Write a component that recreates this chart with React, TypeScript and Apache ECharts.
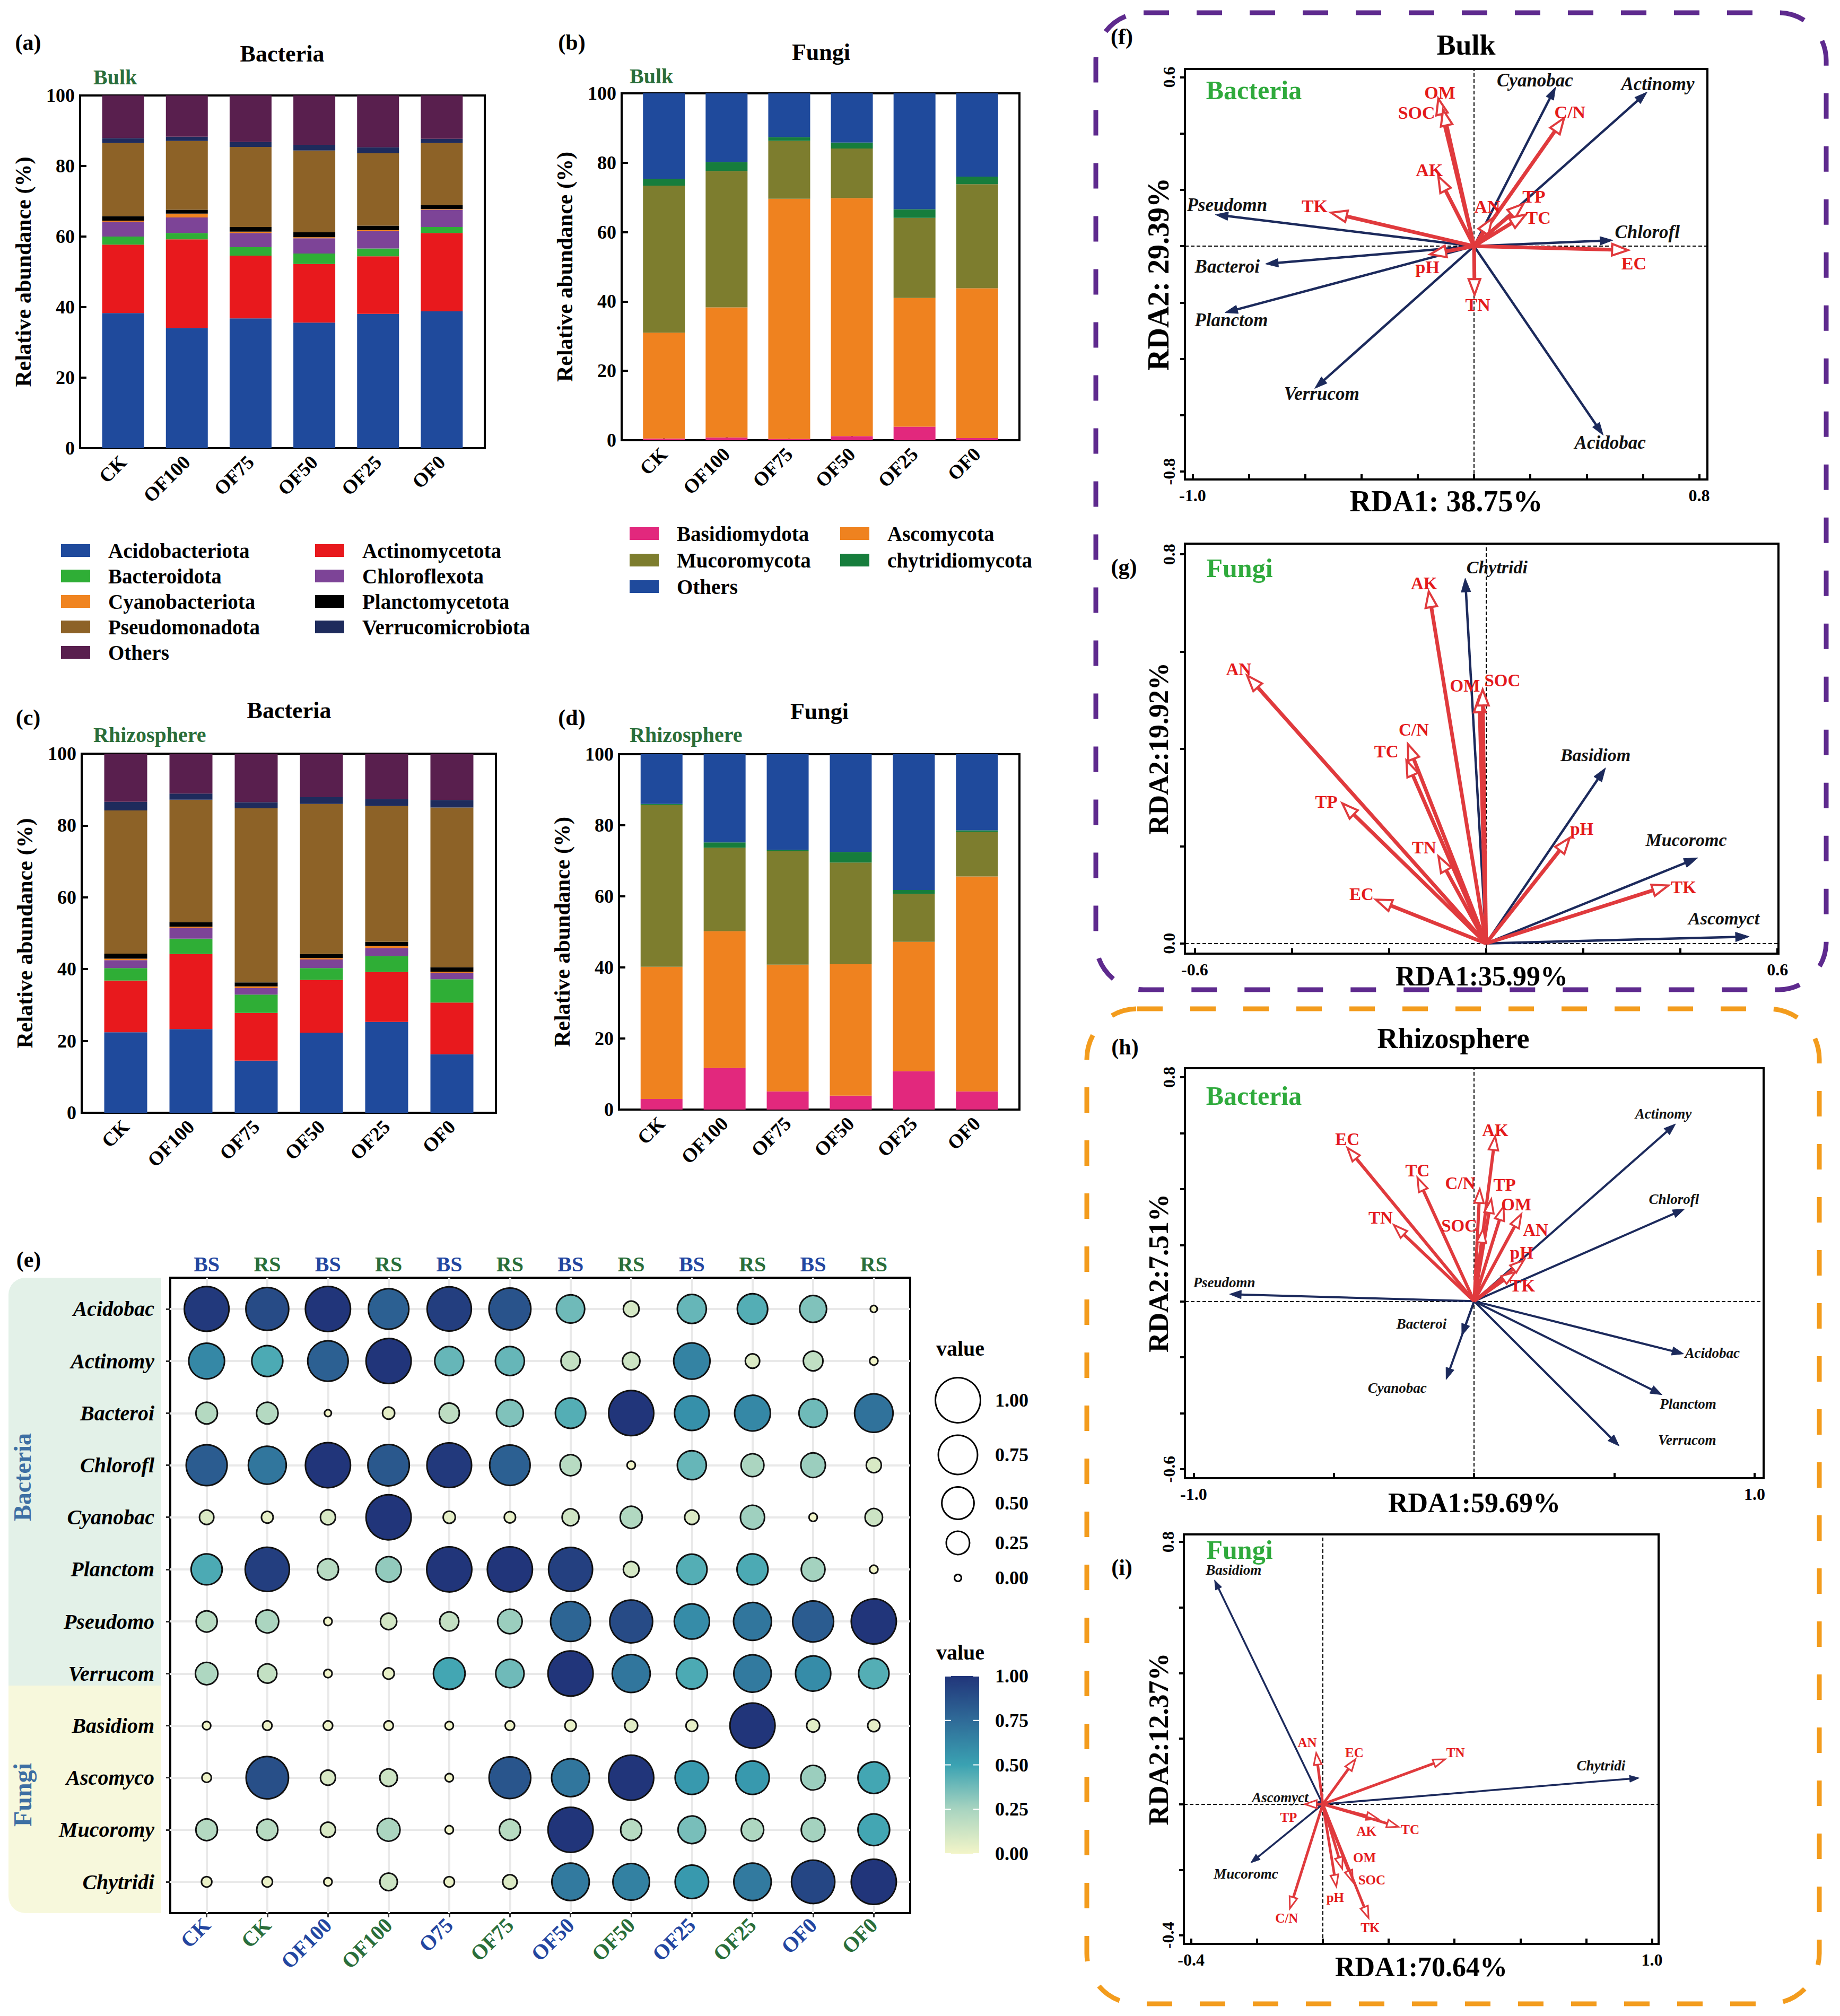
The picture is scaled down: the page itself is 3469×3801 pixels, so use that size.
import React, { useEffect, useRef } from 'react';
import * as echarts from 'echarts';

const FONT = '"Liberation Serif", "Times New Roman", serif';
const NAVY = '#1c2a5c';
const RED_ARROW = '#e03a3d';
const RED_TEXT = '#e41a1c';
const TITLE_GREEN = '#2a6e3a';
const LABEL_GREEN = '#2faa3c';
const AXIS_BLUE = '#2346a0';
const PURPLE = '#5e2a8e';
const ORANGE = '#f39c1d';

// ---------------- stacked bars ----------------
const treatments = ['CK', 'OF100', 'OF75', 'OF50', 'OF25', 'OF0'];
const bacteriaPhyla = ['Acidobacteriota', 'Actinomycetota', 'Bacteroidota', 'Chloroflexota', 'Cyanobacteriota', 'Planctomycetota', 'Pseudomonadota', 'Verrucomicrobiota', 'Others'];
const bacteriaColors = ['#1f4a9c', '#e8191d', '#2fae36', '#7d4497', '#f08420', '#000000', '#8d6227', '#1e2b5c', '#591f4e'];
const fungiPhyla = ['Basidiomydota', 'Ascomycota', 'Mucoromycota', 'chytridiomycota', 'Others'];
const fungiColors = ['#e2287d', '#ef821f', '#7d7d2e', '#167d3c', '#1f4a9c'];

// (a) bulk bacteria (%)
const bulkAcido = [38.3, 34.1, 36.8, 35.6, 38.1, 38.8];
const bulkActino = [19.4, 25.1, 17.8, 16.6, 16.3, 22.2];
const bulkBactero = [2.3, 1.8, 2.4, 3.0, 2.2, 1.7];
const bulkChloro = [4.2, 4.4, 4.0, 4.3, 4.9, 4.9];
const bulkCyano = [0.3, 1.1, 0.4, 0.3, 0.3, 0.2];
const bulkPlancto = [1.3, 1.1, 1.3, 1.4, 1.3, 1.1];
const bulkPseudo = [20.7, 19.5, 22.7, 23.2, 20.5, 17.6];
const bulkVerruco = [1.4, 1.2, 1.4, 1.6, 1.7, 1.2];
const bulkBacOthers = [12.1, 11.7, 13.2, 14.0, 14.7, 12.3];
// (c) rhizosphere bacteria (%)
const rhizAcido = [22.4, 23.3, 14.5, 22.3, 25.3, 16.3];
const rhizActino = [14.4, 20.9, 13.3, 14.7, 13.9, 14.4];
const rhizBactero = [3.5, 4.3, 5.1, 3.3, 4.4, 6.5];
const rhizChloro = [2.2, 3.0, 1.8, 2.4, 2.3, 1.8];
const rhizCyano = [0.4, 0.3, 0.5, 0.4, 0.5, 0.3];
const rhizPlancto = [1.4, 1.3, 1.1, 1.1, 1.2, 1.2];
const rhizPseudo = [39.9, 34.1, 48.5, 41.8, 37.8, 44.5];
const rhizVerruco = [2.4, 1.7, 1.7, 1.9, 2.0, 2.1];
const rhizBacOthers = [13.4, 11.1, 13.5, 12.1, 12.6, 12.9];
// (b) bulk fungi (%)
const bulkBasid = [0.5, 0.8, 0.4, 1.2, 3.9, 0.6];
const bulkAsco = [30.5, 37.5, 69.2, 68.6, 37.1, 43.2];
const bulkMuco = [42.4, 39.3, 16.7, 14.3, 23.1, 30.0];
const bulkChytr = [2.0, 2.6, 1.1, 1.7, 2.5, 2.2];
const bulkFunOthers = [24.6, 19.8, 12.6, 14.2, 33.4, 24.0];
// (d) rhizosphere fungi (%)
const rhizBasid = [3.0, 11.7, 5.1, 3.9, 10.8, 5.1];
const rhizAsco = [37.2, 38.5, 35.7, 37.0, 36.4, 60.5];
const rhizMuco = [45.5, 23.5, 31.9, 28.6, 13.5, 12.5];
const rhizChytr = [0.3, 1.5, 0.4, 3.0, 1.1, 0.5];
const rhizFunOthers = [14.0, 24.8, 26.9, 27.5, 38.2, 21.4];

const bulkBacteria = [bulkAcido, bulkActino, bulkBactero, bulkChloro, bulkCyano, bulkPlancto, bulkPseudo, bulkVerruco, bulkBacOthers];
const rhizBacteria = [rhizAcido, rhizActino, rhizBactero, rhizChloro, rhizCyano, rhizPlancto, rhizPseudo, rhizVerruco, rhizBacOthers];
const bulkFungi = [bulkBasid, bulkAsco, bulkMuco, bulkChytr, bulkFunOthers];
const rhizFungi = [rhizBasid, rhizAsco, rhizMuco, rhizChytr, rhizFunOthers];

// ---------------- bubble matrix (e) ----------------
const bubbleCols = ['CK', 'CK', 'OF100', 'OF100', 'O75', 'OF75', 'OF50', 'OF50', 'OF25', 'OF25', 'OF0', 'OF0'];
const bubbleTop = ['BS', 'RS', 'BS', 'RS', 'BS', 'RS', 'BS', 'RS', 'BS', 'RS', 'BS', 'RS'];
const bubbleRows = ['Acidobac', 'Actinomy', 'Bacteroi', 'Chlorofl', 'Cyanobac', 'Planctom', 'Pseudomo', 'Verrucom', 'Basidiom', 'Ascomyco', 'Mucoromy', 'Chytridi'];
const bubAcidobac = [0.98, 0.90, 1.0, 0.80, 0.96, 0.86, 0.38, 0.10, 0.40, 0.44, 0.34, 0.0];
const bubActinomy = [0.62, 0.46, 0.80, 1.0, 0.40, 0.40, 0.16, 0.13, 0.64, 0.08, 0.17, 0.01];
const bubBacteroi = [0.21, 0.21, 0.0, 0.05, 0.18, 0.34, 0.44, 1.0, 0.58, 0.62, 0.38, 0.72];
const bubChlorofl = [0.82, 0.70, 1.0, 0.84, 0.98, 0.80, 0.20, 0.01, 0.40, 0.24, 0.28, 0.09];
const bubCyanobac = [0.08, 0.045, 0.09, 1.0, 0.05, 0.04, 0.12, 0.22, 0.08, 0.27, 0.01, 0.13];
const bubPlanctom = [0.46, 0.96, 0.20, 0.30, 1.0, 1.0, 0.95, 0.10, 0.44, 0.46, 0.26, 0.01];
const bubPseudomo = [0.20, 0.24, 0.01, 0.11, 0.16, 0.28, 0.78, 0.90, 0.60, 0.70, 0.82, 1.0];
const bubVerrucom = [0.23, 0.16, 0.01, 0.04, 0.48, 0.38, 1.0, 0.70, 0.46, 0.68, 0.60, 0.44];
const bubBasidiom = [0.01, 0.02, 0.02, 0.02, 0.01, 0.02, 0.04, 0.06, 0.045, 1.0, 0.06, 0.05];
const bubAscomyco = [0.02, 0.88, 0.09, 0.13, 0.01, 0.85, 0.70, 1.0, 0.54, 0.54, 0.28, 0.48];
const bubMucoromy = [0.21, 0.20, 0.09, 0.24, 0.01, 0.20, 1.0, 0.20, 0.36, 0.23, 0.26, 0.48];
const bubChytridi = [0.03, 0.03, 0.01, 0.13, 0.03, 0.08, 0.68, 0.65, 0.54, 0.68, 0.92, 1.0];
const bubbleMatrix = [bubAcidobac, bubActinomy, bubBacteroi, bubChlorofl, bubCyanobac, bubPlanctom, bubPseudomo, bubVerrucom, bubBasidiom, bubAscomyco, bubMucoromy, bubChytridi];
const bubbleScale = ['#f3f5c8', '#a8d4c0', '#3aa2b2', '#2f6b98', '#21357a'];
const sizeLegendValues = [1.0, 0.75, 0.5, 0.25, 0.0];
const colorLegendValues = [1.0, 0.75, 0.5, 0.25, 0.0];

// ---------------- RDA biplots ----------------
// (f) bulk bacteria
const fSpecies = ['Cyanobac', 'Actinomy', 'Pseudomn', 'Chlorofl', 'Bacteroi', 'Planctom', 'Verrucom', 'Acidobac'];
const fSpeciesX = [0.290, 0.615, -0.919, 0.493, -0.741, -0.885, -0.566, 0.459];
const fSpeciesY = [0.565, 0.547, 0.112, 0.021, -0.063, -0.236, -0.505, -0.671];
const fEnv = ['OM', 'SOC', 'C/N', 'AK', 'TK', 'AN', 'TP', 'TC', 'EC', 'pH', 'TN'];
const fEnvX = [-0.127, -0.110, 0.320, -0.127, -0.508, 0.064, 0.175, 0.183, 0.547, -0.156, 0.002];
const fEnvY = [0.524, 0.484, 0.455, 0.248, 0.119, 0.098, 0.150, 0.112, -0.014, -0.029, -0.173];
// (g) bulk fungi
const gSpecies = ['Chytridi', 'Basidiom', 'Mucoromc', 'Ascomyct'];
const gSpeciesX = [-0.043, 0.246, 0.436, 0.542];
const gSpeciesY = [0.751, 0.361, 0.176, 0.014];
const gEnv = ['AK', 'AN', 'OM', 'SOC', 'C/N', 'TC', 'TP', 'TN', 'EC', 'pH', 'TK'];
const gEnvX = [-0.118, -0.492, -0.014, -0.007, -0.161, -0.164, -0.296, -0.098, -0.227, 0.172, 0.375];
const gEnvY = [0.724, 0.551, 0.508, 0.522, 0.410, 0.376, 0.288, 0.179, 0.090, 0.217, 0.119];
// (h) rhizosphere bacteria
const hSpecies = ['Actinomy', 'Chlorofl', 'Pseudomn', 'Bacteroi', 'Cyanobac', 'Acidobac', 'Planctom', 'Verrucom'];
const hSpeciesX = [0.718, 0.750, -0.872, -0.044, -0.100, 0.747, 0.670, 0.517];
const hSpeciesY = [0.633, 0.329, 0.025, -0.123, -0.280, -0.188, -0.334, -0.517];
const hEnv = ['EC', 'AK', 'TC', 'C/N', 'TP', 'OM', 'AN', 'TN', 'SOC', 'pH', 'TK'];
const hEnvX = [-0.452, 0.075, -0.202, 0.020, 0.061, 0.105, 0.168, -0.286, 0.032, 0.177, 0.146];
const hEnvY = [0.548, 0.589, 0.441, 0.400, 0.364, 0.338, 0.311, 0.272, 0.258, 0.146, 0.104];
// (i) rhizosphere fungi
const iSpecies = ['Basidiom', 'Chytridi', 'Ascomyct', 'Mucoromc'];
const iSpeciesX = [-0.329, 0.961, -0.025, -0.219];
const iSpeciesY = [0.684, 0.080, 0.003, -0.179];
const iEnv = ['AN', 'EC', 'TN', 'TP', 'AK', 'TC', 'OM', 'SOC', 'pH', 'TK', 'C/N'];
const iEnvX = [-0.020, 0.099, 0.371, -0.054, 0.168, 0.230, 0.059, 0.091, 0.041, 0.139, -0.100];
const iEnvY = [0.156, 0.137, 0.137, 0.000, -0.045, -0.069, -0.197, -0.237, -0.251, -0.347, -0.318];

// label offsets (px from arrow tip) – layout only
const fSpeciesOff = [[-39, -12], [20, -15], [22, -18], [65, -15], [-72, 5], [12, 14], [13, 10], [13, 14]];
const fEnvOff = [[3, -11], [-50, 5], [11, -11], [-17, -12], [-31, -12], [-9, -23], [20, -14], [24, 6], [11, 25], [-5, 24], [6, 18]];
const gSpeciesOff = [[60, -21], [-19, -24], [-22, -34], [-48, -34]];
const gEnvOff = [[-9, -15], [-16, -11], [-27, -20], [37, -17], [11, -27], [-38, -17], [-30, -3], [-27, -17], [-27, -10], [23, -17], [29, 3]];
const hSpeciesOff = [[-23, -19], [-20, -19], [-10, -22], [-76, -22], [-92, 16], [54, -2], [49, 17], [128, -11]];
const hEnvOff = [[0, -16], [0, -11], [0, -13], [-37, -11], [25, -27], [24, -4], [27, 30], [-25, -14], [-45, -6], [-4, -14], [14, 26]];
const iSpeciesOff = [[36, -19], [-72, -23], [-65, -11], [-9, 21]];
const iEnvOff = [[-17, -20], [-2, -13], [20, -13], [-31, 25], [-22, 23], [22, 5], [42, -21], [36, -4], [-2, 21], [3, 18], [-6, 18]];

// ---------------- helpers ----------------
function T(x: number, y: number, text: string, size: number, o: any = {}) {
  const align = o.align || 'center';
  return {
    type: 'text', x, y, rotation: o.rot || 0, z: o.z ?? 20, silent: true,
    style: {
      text, fill: o.color || '#000', fontSize: size, fontFamily: FONT,
      fontWeight: o.weight || 'bold', fontStyle: o.italic ? 'italic' : 'normal',
      align, textAlign: align, verticalAlign: 'middle', textVerticalAlign: 'middle',
    },
  };
}

function stackedPanel(gi: number, names: string[], colors: string[], table: number[][], bw: number) {
  const base = treatments.map(() => 0);
  return names.map((name, k) => {
    const vals = table[k];
    const data = vals.map((v, i) => [i, base[i], base[i] + v]);
    vals.forEach((v, i) => { base[i] += v; });
    const color = colors[k];
    return {
      type: 'custom', name, xAxisIndex: gi, yAxisIndex: gi, z: 2,
      itemStyle: { color },
      encode: { x: 0, y: [1, 2] },
      data,
      renderItem: (p: any, api: any) => {
        const x = api.value(0);
        const a = api.coord([x, api.value(1)]);
        const b = api.coord([x, api.value(2)]);
        return { type: 'rect', shape: { x: a[0] - bw / 2, y: b[1], width: bw, height: a[1] - b[1] }, style: { fill: color } };
      },
    };
  });
}

const treatmentIdx = treatments.map((_, i) => i);
function barXAxis(gi: number) {
  return {
    type: 'value', gridIndex: gi, min: -0.675, max: 5.675,
    axisLine: { show: true, onZero: false, lineStyle: { color: '#000', width: 4 } },
    axisTick: { show: true, inside: true, length: 15, customValues: treatmentIdx, lineStyle: { color: '#000', width: 4 } },
    axisLabel: { show: true, customValues: treatmentIdx, formatter: (v: number) => treatments[Math.round(v)], rotate: 45, margin: 20, color: '#000', fontSize: 37, fontWeight: 'bold', fontFamily: FONT },
    splitLine: { show: false },
  };
}
function barYAxis(gi: number) {
  return {
    type: 'value', gridIndex: gi, min: 0, max: 100, interval: 20,
    name: 'Relative abundance (%)', nameLocation: 'middle', nameGap: 86, nameMoveOverlap: false,
    nameTextStyle: { fontSize: 42, fontWeight: 'bold', fontFamily: FONT, color: '#000' },
    axisLine: { show: true, onZero: false, lineStyle: { color: '#000', width: 4 } },
    axisTick: { show: true, inside: true, length: 12, lineStyle: { color: '#000', width: 4 } },
    axisLabel: { color: '#000', fontSize: 36, fontWeight: 'bold', fontFamily: FONT, margin: 10 },
    splitLine: { show: false },
  };
}

function rdaXAxis(gi: number, min: number, max: number, ticks: number[], labels: number[], name: string, nameSize: number, gap: number) {
  return {
    type: 'value', gridIndex: gi, min, max,
    name, nameLocation: 'middle', nameGap: gap, nameMoveOverlap: false,
    nameTextStyle: { fontSize: nameSize, fontWeight: 'bold', fontFamily: FONT, color: '#000' },
    axisLine: { show: true, onZero: false, lineStyle: { color: '#000', width: 4 } },
    axisTick: { show: true, inside: true, length: 10, customValues: ticks, lineStyle: { color: '#000', width: 4 } },
    axisLabel: { customValues: labels, formatter: (v: number) => v.toFixed(1), margin: 14, color: '#000', fontSize: 32, fontWeight: 'bold', fontFamily: FONT },
    splitLine: { show: false },
  };
}
function rdaYAxis(gi: number, min: number, max: number, ticks: number[], labels: number[], name: string, nameSize: number, gap: number) {
  return {
    type: 'value', gridIndex: gi, min, max,
    name, nameLocation: 'middle', nameGap: gap, nameMoveOverlap: false,
    nameTextStyle: { fontSize: nameSize, fontWeight: 'bold', fontFamily: FONT, color: '#000' },
    axisLine: { show: true, onZero: false, lineStyle: { color: '#000', width: 4 } },
    axisTick: { show: true, inside: false, length: 9, customValues: ticks, lineStyle: { color: '#000', width: 4 } },
    axisLabel: { customValues: labels, formatter: (v: number) => v.toFixed(1), rotate: 90, margin: 14, color: '#000', fontSize: 32, fontWeight: 'bold', fontFamily: FONT },
    splitLine: { show: false },
  };
}

function arrowSeries(gi: number, yi: number, names: string[], xs: number[], ys: number[], offs: number[][], st: any) {
  return {
    type: 'custom', xAxisIndex: gi, yAxisIndex: yi, z: st.z, clip: false,
    encode: { x: 0, y: 1 },
    data: names.map((n, i) => [xs[i], ys[i]]),
    markLine: st.cross ? {
      silent: true, z: 1, symbol: ['none', 'none'], label: { show: false },
      lineStyle: { color: '#000', width: 2, type: [7, 4] }, emphasis: { disabled: true },
      data: [{ xAxis: 0 }, { yAxis: 0 }],
    } : undefined,
    renderItem: (p: any, api: any) => {
      const o = api.coord([0, 0]);
      const t = api.coord([api.value(0), api.value(1)]);
      const dx = t[0] - o[0], dy = t[1] - o[1];
      const L = Math.hypot(dx, dy) || 1;
      const ux = dx / L, uy = dy / L;
      const hl = Math.min(st.head, L * 0.7), hw = st.headW;
      const bx = t[0] - ux * hl, by = t[1] - uy * hl;
      const pts = [[t[0], t[1]], [bx - uy * hw / 2, by + ux * hw / 2], [bx + uy * hw / 2, by - ux * hw / 2]];
      const end = st.hollow ? [bx, by] : [t[0] - ux * hl * 0.5, t[1] - uy * hl * 0.5];
      const off = offs[p.dataIndex];
      return {
        type: 'group',
        children: [
          { type: 'line', shape: { x1: o[0], y1: o[1], x2: end[0], y2: end[1] }, style: { stroke: st.color, lineWidth: st.lw } },
          { type: 'polygon', shape: { points: pts }, style: { fill: st.hollow ? '#fff' : st.color, stroke: st.color, lineWidth: st.hollow ? st.headLw : 1 } },
          {
            type: 'text', x: t[0] + off[0], y: t[1] + off[1],
            style: {
              text: names[p.dataIndex], fill: st.textColor, fontSize: st.fs, fontFamily: FONT, fontWeight: 'bold',
              fontStyle: st.italic ? 'italic' : 'normal', align: 'center', textAlign: 'center', verticalAlign: 'middle', textVerticalAlign: 'middle',
            },
          },
        ],
      };
    },
  };
}

function range(a: number, b: number, step: number) {
  const out: number[] = [];
  for (let v = a; v <= b + 1e-9; v += step) out.push(Math.round(v * 1000) / 1000);
  return out;
}

function buildOption() {
  const gridStyle = { show: true, borderColor: '#000', borderWidth: 4, backgroundColor: 'transparent' };
  const grid = [
    { left: 151, top: 180, width: 763, height: 665, ...gridStyle },
    { left: 1172, top: 176, width: 750, height: 654, ...gridStyle },
    { left: 154, top: 1421, width: 781, height: 677, ...gridStyle },
    { left: 1167, top: 1422, width: 755, height: 670, ...gridStyle },
    { left: 321, top: 2409, width: 1395, height: 1198, ...gridStyle },
    { left: 2234, top: 130, width: 985, height: 774, ...gridStyle },
    { left: 2234, top: 1025, width: 1119, height: 773, ...gridStyle },
    { left: 2234, top: 2014, width: 1091, height: 773, ...gridStyle },
    { left: 2232, top: 2893, width: 895, height: 772, ...gridStyle },
  ];

  const colIdx = bubbleCols.map((_, i) => i);
  const rowIdx = bubbleRows.map((_, i) => i);
  const rich = {
    b: { color: AXIS_BLUE, fontSize: 40, fontWeight: 'bold', fontFamily: FONT },
    g: { color: TITLE_GREEN, fontSize: 40, fontWeight: 'bold', fontFamily: FONT },
  };

  const xAxis: any[] = [
    barXAxis(0), barXAxis(1), barXAxis(2), barXAxis(3),
    {
      type: 'value', gridIndex: 4, min: -0.6, max: 11.6,
      axisLine: { show: false, onZero: false },
      axisTick: { show: true, customValues: colIdx, length: 8, lineStyle: { color: '#333', width: 3 } },
      axisLabel: { customValues: colIdx, rotate: 45, margin: 16, formatter: (v: number) => { const k = Math.round(v); return `{${k % 2 ? 'g' : 'b'}|${bubbleCols[k]}}`; }, rich },
      splitLine: { show: false },
    },
    {
      type: 'value', gridIndex: 4, position: 'top', min: -0.6, max: 11.6,
      axisLine: { show: false, onZero: false }, axisTick: { show: false },
      axisLabel: { customValues: colIdx, margin: 6, formatter: (v: number) => { const k = Math.round(v); return `{${k % 2 ? 'g' : 'b'}|${bubbleTop[k]}}`; }, rich },
      splitLine: { show: false },
    },
    rdaXAxis(5, -1.027, 0.829, range(-1, 0.8, 0.2), [-1.0, 0.8], 'RDA1: 38.75%', 56, 13),
    rdaXAxis(6, -0.620, 0.602, range(-0.6, 0.6, 0.2), [-0.6, 0.6], 'RDA1:35.99%', 52, 16),
    rdaXAxis(7, -1.031, 1.032, range(-1, 1, 0.5), [-1.0, 1.0], 'RDA1:59.69%', 52, 20),
    rdaXAxis(8, -0.422, 1.020, range(-0.4, 1.0, 0.2), [-0.4, 1.0], 'RDA1:70.64%', 52, 17),
  ];
  const yAxis: any[] = [
    barYAxis(0), barYAxis(1), barYAxis(2), barYAxis(3),
    {
      type: 'value', gridIndex: 4, min: -0.6, max: 11.6, inverse: true, z: 5,
      axisLine: { show: false, onZero: false },
      axisTick: { show: true, customValues: rowIdx, length: 8, lineStyle: { color: '#333', width: 3 } },
      axisLabel: { customValues: rowIdx, margin: 30, formatter: (v: number) => bubbleRows[Math.round(v)], color: '#000', fontSize: 40, fontWeight: 'bold', fontStyle: 'italic', fontFamily: FONT },
      splitLine: { show: false },
    },
    rdaYAxis(5, -0.828, 0.629, range(-0.8, 0.6, 0.2), [0.6, -0.8], 'RDA2: 29.39%', 56, 22),
    rdaYAxis(6, -0.021, 0.822, range(0, 0.8, 0.2), [0.8, 0.0], 'RDA2:19.92%', 52, 24),
    rdaYAxis(7, -0.632, 0.832, range(-0.6, 0.8, 0.2), [0.8, -0.6], 'RDA2:7.51%', 52, 24),
    rdaYAxis(8, -0.426, 0.823, range(-0.4, 0.8, 0.2), [0.8, -0.4], 'RDA2:12.37%', 52, 22),
  ];

  const bubbleData: number[][] = [];
  bubbleMatrix.forEach((row, i) => row.forEach((v, j) => bubbleData.push([j, i, v])));
  const sizeOf = (v: number) => Math.sqrt(169 + 7056 * v);

  const series: any[] = [
    {
      type: 'scatter', xAxisIndex: 4, yAxisIndex: 4, z: 3,
      data: bubbleData,
      symbolSize: (val: number[]) => sizeOf(val[2]),
      itemStyle: { borderColor: '#111', borderWidth: 3, opacity: 1 },
      emphasis: { disabled: true },
      markLine: {
        silent: true, z: 1, symbol: ['none', 'none'], label: { show: false }, emphasis: { disabled: true },
        lineStyle: { color: '#e9e9e9', width: 4, type: 'solid' },
        data: [...rowIdx.map((i) => ({ yAxis: i })), ...colIdx.map((j) => ({ xAxis: j }))],
      },
    },
    ...stackedPanel(0, bacteriaPhyla, bacteriaColors, bulkBacteria, 79),
    ...stackedPanel(1, fungiPhyla, fungiColors, bulkFungi, 79),
    ...stackedPanel(2, bacteriaPhyla, bacteriaColors, rhizBacteria, 81),
    ...stackedPanel(3, fungiPhyla, fungiColors, rhizFungi, 79),
  ];

  const navyF = { color: NAVY, textColor: '#111', lw: 4.5, head: 24, headW: 16, hollow: false, fs: 35, italic: true, z: 4, cross: true };
  const redF = { color: RED_ARROW, textColor: RED_TEXT, lw: 7, head: 30, headW: 22, headLw: 4, hollow: true, fs: 34, italic: false, z: 5 };
  series.push(arrowSeries(6, 5, fSpecies, fSpeciesX, fSpeciesY, fSpeciesOff, navyF));
  series.push(arrowSeries(6, 5, fEnv, fEnvX, fEnvY, fEnvOff, redF));
  series.push(arrowSeries(7, 6, gSpecies, gSpeciesX, gSpeciesY, gSpeciesOff, { ...navyF, head: 26, headW: 18, fs: 34 }));
  series.push(arrowSeries(7, 6, gEnv, gEnvX, gEnvY, gEnvOff, { ...redF, fs: 33 }));
  series.push(arrowSeries(8, 7, hSpecies, hSpeciesX, hSpeciesY, hSpeciesOff, { ...navyF, lw: 4, head: 22, headW: 16, fs: 27 }));
  series.push(arrowSeries(8, 7, hEnv, hEnvX, hEnvY, hEnvOff, { ...redF, lw: 6, head: 26, headW: 18, headLw: 3.5, fs: 33 }));
  series.push(arrowSeries(9, 8, iSpecies, iSpeciesX, iSpeciesY, iSpeciesOff, { ...navyF, lw: 3.5, head: 18, headW: 13, fs: 27 }));
  series.push(arrowSeries(9, 8, iEnv, iEnvX, iEnvY, iEnvOff, { ...redF, lw: 5, head: 22, headW: 15, headLw: 3, fs: 25 }));

  const legendText = { fontSize: 39, fontWeight: 'bold', fontFamily: FONT, color: '#000', lineHeight: 40, padding: [0, 0, 0, 29] };
  const legendBase = { orient: 'vertical', itemWidth: 55, itemHeight: 24, itemGap: 8, icon: 'rect', selectedMode: false, padding: 0, textStyle: legendText };
  const legend = [
    { ...legendBase, left: 115, top: 1018, data: ['Acidobacteriota', 'Bacteroidota', 'Cyanobacteriota', 'Pseudomonadota', 'Others'] },
    { ...legendBase, left: 594, top: 1018, data: ['Actinomycetota', 'Chloroflexota', 'Planctomycetota', 'Verrucomicrobiota'] },
    { ...legendBase, left: 1187, top: 986, itemGap: 10, data: ['Basidiomydota', 'Mucoromycota', { name: 'Others', itemStyle: { color: fungiColors[4] } }] },
    { ...legendBase, left: 1584, top: 986, itemGap: 10, data: ['Ascomycota', 'chytridiomycota'] },
  ];

  // ---------- graphic ----------
  const g: any[] = [];
  // dashed frames
  g.push({ type: 'rect', z: 0, silent: true, shape: { x: 2066, y: 24, width: 1377, height: 1842, r: 90 }, style: { fill: 'none', stroke: PURPLE, lineWidth: 9, lineDash: [48, 52] } });
  g.push({ type: 'rect', z: 0, silent: true, shape: { x: 2049, y: 1902, width: 1381, height: 1876, r: 95 }, style: { fill: 'none', stroke: ORANGE, lineWidth: 9, lineDash: [48, 52] } });
  // panel letters
  [['(a)', 53, 80], ['(b)', 1078, 80], ['(c)', 53, 1353], ['(d)', 1078, 1353], ['(e)', 54, 2375], ['(f)', 2115, 69], ['(g)', 2119, 1069], ['(h)', 2121, 1974], ['(i)', 2115, 2955]]
    .forEach(([t, x, y]: any) => g.push(T(x, y, t, 42)));
  // bar titles
  g.push(T(532, 101, 'Bacteria', 44));
  g.push(T(1548, 98, 'Fungi', 44));
  g.push(T(545, 1339, 'Bacteria', 44));
  g.push(T(1545, 1341, 'Fungi', 44));
  g.push(T(176, 145, 'Bulk', 40, { align: 'left', color: TITLE_GREEN }));
  g.push(T(1187, 143, 'Bulk', 40, { align: 'left', color: TITLE_GREEN }));
  g.push(T(176, 1385, 'Rhizosphere', 40, { align: 'left', color: TITLE_GREEN }));
  g.push(T(1187, 1385, 'Rhizosphere', 40, { align: 'left', color: TITLE_GREEN }));
  // RDA titles
  g.push(T(2764, 85, 'Bulk', 54));
  g.push(T(2740, 1958, 'Rhizosphere', 54));
  g.push(T(2364, 170, 'Bacteria', 50, { color: LABEL_GREEN }));
  g.push(T(2337, 1071, 'Fungi', 50, { color: LABEL_GREEN }));
  g.push(T(2364, 2066, 'Bacteria', 50, { color: LABEL_GREEN }));
  g.push(T(2337, 2922, 'Fungi', 50, { color: LABEL_GREEN }));
  // bubble bands
  g.push({ type: 'rect', z: 0, silent: true, shape: { x: 16, y: 2409, width: 288, height: 769, r: [32, 0, 0, 0] }, style: { fill: '#e3f1e8' } });
  g.push({ type: 'rect', z: 0, silent: true, shape: { x: 16, y: 3178, width: 288, height: 429, r: [0, 0, 0, 32] }, style: { fill: '#f7f8dc' } });
  g.push(T(42, 2785, 'Bacteria', 46, { rot: Math.PI / 2, color: '#3d6fa3' }));
  g.push(T(42, 3384, 'Fungi', 48, { rot: Math.PI / 2, color: '#3d6fa3' }));
  // size legend
  g.push(T(1765, 2542, 'value', 40, { align: 'left' }));
  const sizeY = [2640, 2743, 2834, 2909, 2975];
  sizeLegendValues.forEach((v, i) => {
    g.push({ type: 'circle', z: 10, silent: true, shape: { cx: 1806, cy: sizeY[i], r: sizeOf(v) / 2 }, style: { fill: '#fff', stroke: '#000', lineWidth: 3 } });
    g.push(T(1876, sizeY[i], v.toFixed(2), 36, { align: 'left' }));
  });
  // colour bar
  g.push(T(1765, 3115, 'value', 40, { align: 'left' }));
  const cbX = 1782, cbY = 3160, cbW = 64, cbH = 335;
  g.push({
    type: 'rect', z: 10, silent: true, shape: { x: cbX, y: cbY, width: cbW, height: cbH },
    style: { fill: new echarts.graphic.LinearGradient(0, 1, 0, 0, bubbleScale.map((c, i) => ({ offset: i / (bubbleScale.length - 1), color: c }))) },
  });
  colorLegendValues.forEach((v) => {
    const y = cbY + (1 - v) * cbH;
    g.push({ type: 'line', z: 11, silent: true, shape: { x1: cbX, y1: y, x2: cbX + 11, y2: y }, style: { stroke: '#fff', lineWidth: 2 } });
    g.push({ type: 'line', z: 11, silent: true, shape: { x1: cbX + cbW - 11, y1: y, x2: cbX + cbW, y2: y }, style: { stroke: '#fff', lineWidth: 2 } });
    g.push(T(1876, y, v.toFixed(2), 36, { align: 'left' }));
  });

  return {
    animation: false,
    backgroundColor: '#fff',
    textStyle: { fontFamily: FONT },
    grid, xAxis, yAxis, legend,
    visualMap: [{ type: 'continuous', show: false, seriesIndex: 0, dimension: 2, min: 0, max: 1, inRange: { color: bubbleScale } }],
    series,
    graphic: { elements: g },
  };
}

export default function App() {
  const ref = useRef<HTMLDivElement>(null);
  useEffect(() => {
    const chart = echarts.init(ref.current as HTMLDivElement, null, { renderer: 'svg' });
    chart.setOption(buildOption() as any);
    return () => chart.dispose();
  }, []);
  return <div ref={ref} style={{ position: 'absolute', left: 0, top: 0, width: 3469, height: 3801, background: '#fff' }} />;
}
